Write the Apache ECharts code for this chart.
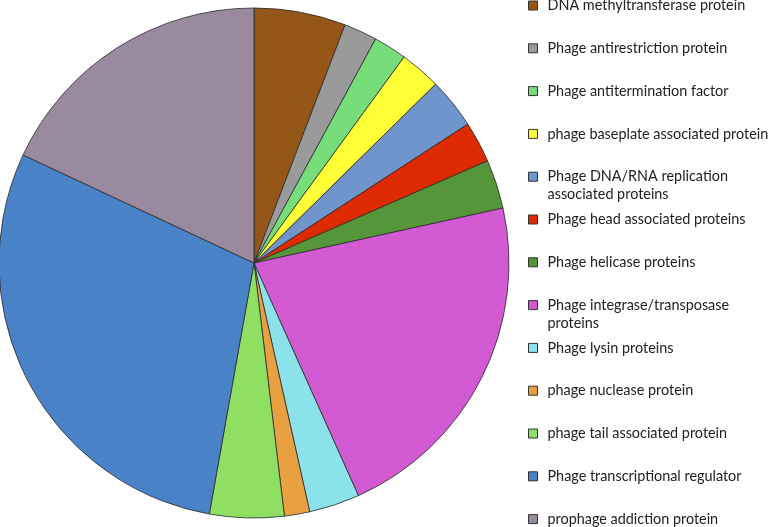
<!DOCTYPE html>
<html>
<head>
<meta charset="utf-8">
<script src="https://cdn.jsdelivr.net/npm/echarts@6/dist/echarts.min.js"></script>
<style>
  html, body { margin: 0; padding: 0; background: #fff; }
  #chart { width: 770px; height: 527px; }
</style>
</head>
<body>
<div id="chart"></div>
<script>
  // categories, clockwise from 12 o'clock
  var categories = [
    'DNA methyltransferase protein',
    'Phage antirestriction protein',
    'Phage antitermination factor',
    'phage baseplate associated protein',
    'Phage DNA/RNA replication\nassociated proteins',
    'Phage head associated proteins',
    'Phage helicase proteins',
    'Phage integrase/transposase\nproteins',
    'Phage lysin proteins',
    'phage nuclease protein',
    'phage tail associated protein',
    'Phage transcriptional regulator',
    'prophage addiction protein'
  ]
  // share of each slice (%)
  var shares = [5.8, 2.1, 2.1, 2.6, 3.2, 2.6, 3.1, 21.7, 3.2, 1.6, 4.7, 29.1, 18.0]
  var colors = ['#955718', '#9a9a9a', '#77dd7a', '#ffff38', '#7094cc', '#dd2a00',
    '#55963a', '#d25ad2', '#8ce2ea', '#e8a040', '#8fe062', '#4a82c8', '#9a8aa0']

  var chart = echarts.init(document.getElementById('chart'))

  // one legend per item so two-line entries keep the even spacing
  var legends = categories.map(function(name, i) {
    var twoLine = name.indexOf('\n') >= 0
    var center = 5.5 + i * 42.8
    return {
      orient: 'vertical',
      left: 528,
      top: center - (twoLine ? 27 : 9),
      itemWidth: 9,
      itemHeight: 9,
      padding: 0,
      icon: 'rect',
      selectedMode: false,
      itemStyle: { borderColor: '#333', borderWidth: 1 },
      // blank first line keeps the icon level with the first text line
      formatter: function(n) {
        return twoLine ? ' \n' + n : n
      },
      textStyle: {
        fontFamily: 'Lato',
        fontSize: 14.4,
        color: '#222',
        lineHeight: 18,
        padding: [0, 0, 0, 5]
      },
      data: [name]
    }
  })

  chart.setOption({
    animation: false,
    color: colors,
    legend: legends,
    series: [{
      type: 'pie',
      center: [254, 263],
      radius: 255,
      startAngle: 90,
      clockwise: true,
      label: { show: false },
      labelLine: { show: false },
      itemStyle: { borderColor: '#2a2a2a', borderWidth: 0.8 },
      emphasis: { disabled: true },
      data: categories.map(function(name, i) {
        return { name: name, value: shares[i] }
      })
    }]
  })
</script>
</body>
</html>
